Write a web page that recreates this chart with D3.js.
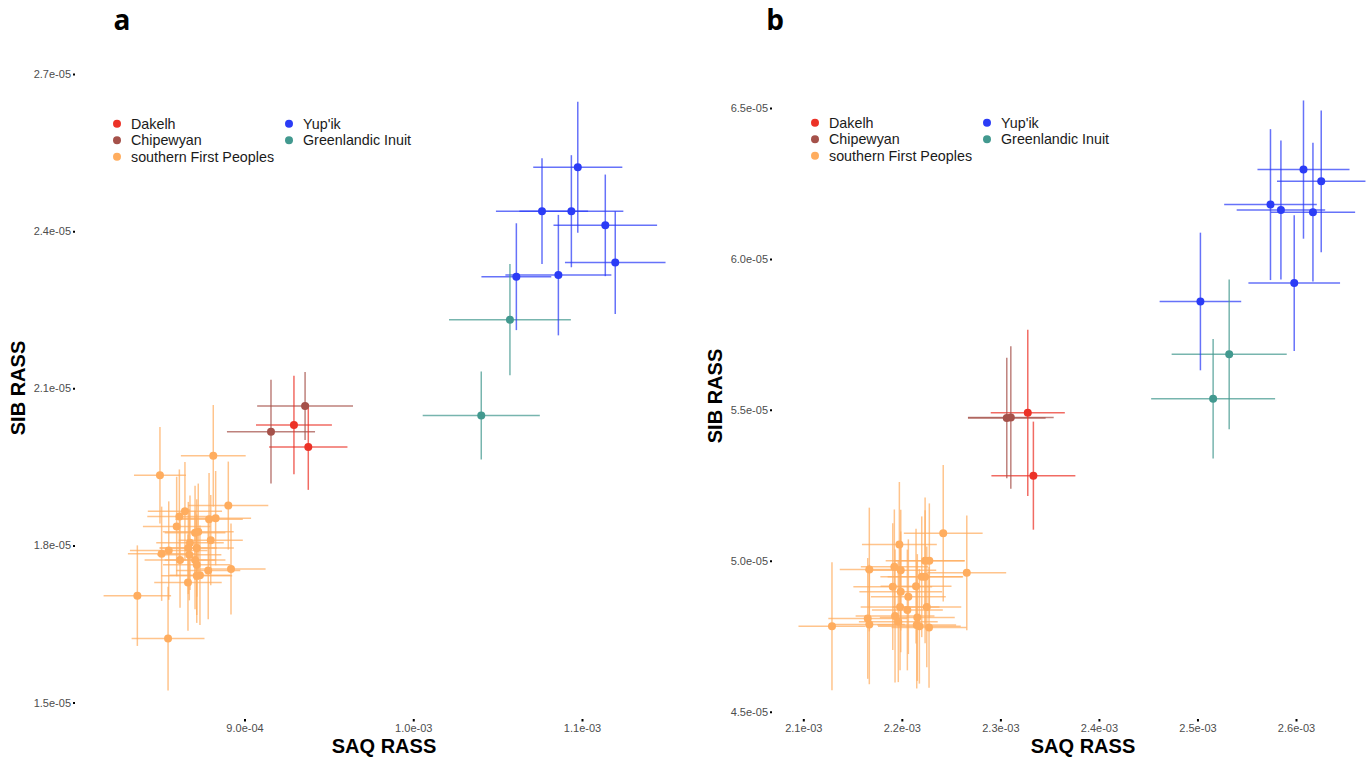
<!DOCTYPE html>
<html>
<head>
<meta charset="utf-8">
<script src="https://cdn.jsdelivr.net/npm/d3@7"></script>
<style>
  body { margin: 0; background: #fff; }
  svg { display: block; font-family: "Liberation Sans", Arial, sans-serif; }
</style>
</head>
<body>
<div id="chart"></div>
<script>
// groups + colours
var groups = ["Dakelh", "Chipewyan", "southern First Peoples", "Yup'ik", "Greenlandic Inuit"];
var groupColors = ["#ec3227", "#a5514a", "#ffad5f", "#2b3cf6", "#42998f"];

// rows: [SAQ RASS, SAQ err, SIB RASS, SIB err]
var aDakelh = [[9.293e-4, 0.225e-4, 2.030e-5, 0.094e-5], [9.378e-4, 0.232e-4, 1.988e-5, 0.082e-5]];
var aChipewyan = [[9.359e-4, 0.284e-4, 2.066e-5, 0.065e-5], [9.157e-4, 0.261e-4, 2.017e-5, 0.099e-5]];
var aSouthern = [
  [8.499e-4, 0.154e-4, 1.934e-5, 0.092e-5], [8.815e-4, 0.192e-4, 1.971e-5, 0.097e-5],
  [8.904e-4, 0.237e-4, 1.876e-5, 0.084e-5], [8.647e-4, 0.220e-4, 1.865e-5, 0.094e-5],
  [8.614e-4, 0.190e-4, 1.855e-5, 0.090e-5], [8.790e-4, 0.200e-4, 1.850e-5, 0.088e-5],
  [8.829e-4, 0.210e-4, 1.852e-5, 0.090e-5], [8.598e-4, 0.200e-4, 1.836e-5, 0.095e-5],
  [8.707e-4, 0.180e-4, 1.824e-5, 0.090e-5], [8.726e-4, 0.210e-4, 1.826e-5, 0.092e-5],
  [8.800e-4, 0.190e-4, 1.810e-5, 0.086e-5], [8.677e-4, 0.200e-4, 1.805e-5, 0.090e-5],
  [8.667e-4, 0.170e-4, 1.795e-5, 0.088e-5], [8.717e-4, 0.220e-4, 1.795e-5, 0.093e-5],
  [8.551e-4, 0.230e-4, 1.790e-5, 0.094e-5], [8.509e-4, 0.200e-4, 1.784e-5, 0.090e-5],
  [8.673e-4, 0.190e-4, 1.782e-5, 0.087e-5], [8.618e-4, 0.210e-4, 1.772e-5, 0.091e-5],
  [8.707e-4, 0.180e-4, 1.772e-5, 0.094e-5], [8.717e-4, 0.200e-4, 1.763e-5, 0.096e-5],
  [8.920e-4, 0.205e-4, 1.755e-5, 0.087e-5], [8.785e-4, 0.190e-4, 1.752e-5, 0.093e-5],
  [8.717e-4, 0.210e-4, 1.742e-5, 0.090e-5], [8.736e-4, 0.180e-4, 1.743e-5, 0.095e-5],
  [8.665e-4, 0.200e-4, 1.729e-5, 0.092e-5], [8.365e-4, 0.200e-4, 1.704e-5, 0.096e-5],
  [8.547e-4, 0.216e-4, 1.622e-5, 0.099e-5]
];
var aYupik = [
  [10.975e-4, 0.264e-4, 2.522e-5, 0.125e-5], [10.763e-4, 0.273e-4, 2.438e-5, 0.101e-5],
  [10.937e-4, 0.308e-4, 2.438e-5, 0.107e-5], [11.138e-4, 0.307e-4, 2.411e-5, 0.097e-5],
  [11.197e-4, 0.298e-4, 2.340e-5, 0.098e-5], [10.611e-4, 0.207e-4, 2.313e-5, 0.102e-5],
  [10.860e-4, 0.314e-4, 2.316e-5, 0.115e-5]
];
var aInuit = [[10.573e-4, 0.361e-4, 2.231e-5, 0.106e-5], [10.403e-4, 0.347e-4, 2.048e-5, 0.084e-5]];

var bDakelh = [[2.3278e-3, 0.0376e-3, 5.490e-5, 0.275e-5], [2.3335e-3, 0.0426e-3, 5.282e-5, 0.179e-5]];
var bChipewyan = [[2.3065e-3, 0.0394e-3, 5.473e-5, 0.200e-5], [2.3106e-3, 0.0435e-3, 5.475e-5, 0.236e-5]];
var bSouthern = [
  [2.2420e-3, 0.040e-3, 5.091e-5, 0.226e-5], [2.1975e-3, 0.038e-3, 5.054e-5, 0.207e-5],
  [2.1670e-3, 0.030e-3, 4.971e-5, 0.205e-5], [2.1924e-3, 0.034e-3, 4.980e-5, 0.190e-5],
  [2.1989e-3, 0.036e-3, 4.969e-5, 0.200e-5], [2.2236e-3, 0.040e-3, 5.000e-5, 0.210e-5],
  [2.2279e-3, 0.036e-3, 5.000e-5, 0.190e-5], [2.2659e-3, 0.040e-3, 4.960e-5, 0.190e-5],
  [2.2202e-3, 0.042e-3, 4.947e-5, 0.200e-5], [2.2236e-3, 0.038e-3, 4.947e-5, 0.220e-5],
  [2.1908e-3, 0.040e-3, 4.914e-5, 0.210e-5], [2.2144e-3, 0.036e-3, 4.916e-5, 0.190e-5],
  [2.1989e-3, 0.042e-3, 4.897e-5, 0.200e-5], [2.2066e-3, 0.038e-3, 4.881e-5, 0.190e-5],
  [2.1982e-3, 0.040e-3, 4.847e-5, 0.210e-5], [2.2056e-3, 0.036e-3, 4.837e-5, 0.200e-5],
  [2.2253e-3, 0.035e-3, 4.847e-5, 0.200e-5], [2.1654e-3, 0.040e-3, 4.809e-5, 0.200e-5],
  [2.1931e-3, 0.040e-3, 4.817e-5, 0.220e-5], [2.2157e-3, 0.038e-3, 4.812e-5, 0.210e-5],
  [2.1670e-3, 0.036e-3, 4.789e-5, 0.198e-5], [2.1964e-3, 0.040e-3, 4.798e-5, 0.200e-5],
  [2.2151e-3, 0.040e-3, 4.787e-5, 0.210e-5], [2.2178e-3, 0.042e-3, 4.783e-5, 0.190e-5],
  [2.2276e-3, 0.038e-3, 4.779e-5, 0.200e-5], [2.1291e-3, 0.034e-3, 4.783e-5, 0.212e-5]
];
var bYupik = [
  [2.6076e-3, 0.0467e-3, 6.296e-5, 0.229e-5], [2.6256e-3, 0.0449e-3, 6.257e-5, 0.235e-5],
  [2.5741e-3, 0.0470e-3, 6.180e-5, 0.250e-5], [2.5847e-3, 0.0449e-3, 6.162e-5, 0.230e-5],
  [2.6172e-3, 0.0428e-3, 6.155e-5, 0.230e-5], [2.5982e-3, 0.0465e-3, 5.920e-5, 0.225e-5],
  [2.5030e-3, 0.0414e-3, 5.859e-5, 0.228e-5]
];
var bInuit = [[2.5322e-3, 0.0584e-3, 5.684e-5, 0.248e-5], [2.5159e-3, 0.0629e-3, 5.537e-5, 0.198e-5]];

// tick values
var aXTicks = [9.0e-4, 1.0e-3, 1.1e-3];
var aYTicks = [1.5e-5, 1.8e-5, 2.1e-5, 2.4e-5, 2.7e-5];
var bXTicks = [2.1e-3, 2.2e-3, 2.3e-3, 2.4e-3, 2.5e-3, 2.6e-3];
var bYTicks = [4.5e-5, 5.0e-5, 5.5e-5, 6.0e-5, 6.5e-5];

var width = 1367, height = 762;

var svg = d3.select("#chart").append("svg")
    .attr("width", width)
    .attr("height", height);

// 2.7e-5 -> 2.7e-05
function sciFormat(v) {
    var s = v.toExponential(1);
    return s.replace(/e([+-])(\d)$/, "e$10$2");
}

function drawPanel(cfg) {
    var g = svg.append("g").attr("class", "panel");

    var x = d3.scaleLinear().domain(cfg.xDomain).range(cfg.xRange);
    var y = d3.scaleLinear().domain(cfg.yDomain).range(cfg.yRange);

    // y axis
    var yAxis = g.append("g")
        .attr("transform", "translate(" + cfg.yAxisX + ",0)")
        .call(d3.axisLeft(y).tickValues(cfg.yTicks).tickFormat(sciFormat).tickSize(2).tickPadding(2));
    yAxis.select(".domain").remove();

    var xAxis = g.append("g")
        .attr("transform", "translate(0," + cfg.xAxisY + ")")
        .call(d3.axisBottom(x).tickValues(cfg.xTicks).tickFormat(sciFormat).tickSize(2.5).tickPadding(3));
    xAxis.select(".domain").remove();

    g.selectAll(".tick line").attr("stroke", "#000").attr("stroke-width", 2);
    g.selectAll(".tick text")
        .attr("fill", "#4d4d4d")
        .attr("font-size", "11px")
        .attr("font-family", "Liberation Sans, Arial, sans-serif");

    // flatten rows with group index
    var rows = [];
    cfg.series.forEach(function (s, gi) {
        s.forEach(function (r) {
            rows.push({ g: gi, x: r[0], xe: r[1], y: r[2], ye: r[3] });
        });
    });

    var bars = g.append("g").attr("class", "errorbars");
    bars.selectAll("line.h")
        .data(rows)
        .enter()
        .append("line")
        .attr("class", "h")
        .attr("x1", function (d) { return x(d.x - d.xe); })
        .attr("x2", function (d) { return x(d.x + d.xe); })
        .attr("y1", function (d) { return y(d.y); })
        .attr("y2", function (d) { return y(d.y); })
        .attr("stroke", function (d) { return groupColors[d.g]; })
        .attr("stroke-width", 1.5)
        .attr("stroke-opacity", 0.72);

    bars.selectAll("line.v")
        .data(rows)
        .enter()
        .append("line")
        .attr("class", "v")
        .attr("x1", function (d) { return x(d.x); })
        .attr("x2", function (d) { return x(d.x); })
        .attr("y1", function (d) { return y(d.y - d.ye); })
        .attr("y2", function (d) { return y(d.y + d.ye); })
        .attr("stroke", function (d) { return groupColors[d.g]; })
        .attr("stroke-width", 1.5)
        .attr("stroke-opacity", 0.72);

    g.append("g").attr("class", "points")
        .selectAll("circle")
        .data(rows)
        .enter()
        .append("circle")
        .attr("cx", function (d) { return x(d.x); })
        .attr("cy", function (d) { return y(d.y); })
        .attr("r", 4)
        .attr("fill", function (d) { return groupColors[d.g]; });

    // axis titles
    g.append("text")
        .text("SAQ RASS")
        .attr("x", cfg.xTitle[0])
        .attr("y", cfg.xTitle[1])
        .attr("text-anchor", "middle")
        .attr("font-size", "20px")
        .attr("font-weight", "bold")
        .attr("fill", "#000");

    g.append("text")
        .text("SIB RASS")
        .attr("transform", "translate(" + cfg.yTitle[0] + "," + cfg.yTitle[1] + ") rotate(-90)")
        .attr("text-anchor", "middle")
        .attr("font-size", "20px")
        .attr("font-weight", "bold")
        .attr("fill", "#000");

    // panel letter
    g.append("text")
        .text(cfg.letter)
        .attr("x", cfg.letterPos[0])
        .attr("y", cfg.letterPos[1])
        .attr("text-anchor", "middle")
        .attr("font-size", "28px")
        .attr("font-weight", "bold")
        .attr("font-family", "Open Sans, Liberation Sans, sans-serif")
        .attr("fill", "#000");

    // legend, 2 columns (3 + 2)
    var legend = g.append("g").attr("class", "legend");
    var item = legend.selectAll("g.item")
        .data(groups)
        .enter()
        .append("g")
        .attr("class", "item")
        .attr("transform", function (d, i) {
            var col = i < 3 ? 0 : 1;
            var row = i < 3 ? i : i - 3;
            return "translate(" + (cfg.legendPos[0] + col * cfg.legendColW) + "," + (cfg.legendPos[1] + row * 16.5) + ")";
        });
    item.append("circle")
        .attr("r", 4)
        .attr("fill", function (d, i) { return groupColors[i]; });
    item.append("text")
        .text(function (d) { return d; })
        .attr("x", 14)
        .attr("y", 5)
        .attr("font-size", "14.3px")
        .attr("fill", "#1a1a1a");
}

drawPanel({
    letter: "a",
    letterPos: [122, 30],
    series: [aDakelh, aChipewyan, aSouthern, aYupik, aInuit],
    xDomain: [9.0e-4, 1.1e-3], xRange: [244.5, 582],
    yDomain: [1.5e-5, 2.7e-5], yRange: [702.5, 74],
    xTicks: aXTicks, yTicks: aYTicks,
    yAxisX: 75, xAxisY: 719,
    xTitle: [384, 753], yTitle: [25, 388],
    legendPos: [117, 123.7], legendColW: 172
});

drawPanel({
    letter: "b",
    letterPos: [775, 30],
    series: [bDakelh, bChipewyan, bSouthern, bYupik, bInuit],
    xDomain: [2.1e-3, 2.6e-3], xRange: [803.3, 1296],
    yDomain: [4.5e-5, 6.5e-5], yRange: [711.7, 108],
    xTicks: bXTicks, yTicks: bYTicks,
    yAxisX: 772, xAxisY: 719,
    xTitle: [1083, 753], yTitle: [722, 396],
    legendPos: [815, 122.7], legendColW: 172
});
</script>
</body>
</html>
